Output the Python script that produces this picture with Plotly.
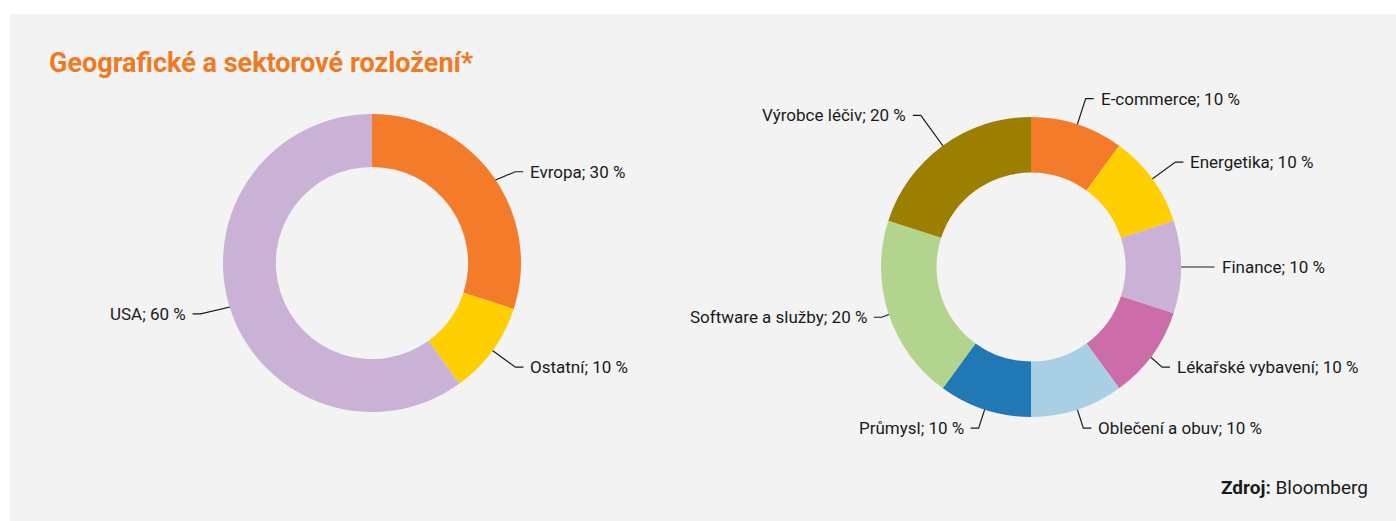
import math
import plotly.graph_objects as go

W, H = 1396, 521

# ---------------- data ----------------
geo_labels = ["Evropa", "Ostatní", "USA"]
geo_values = [30, 10, 60]
geo_colors = ["#F47B2A", "#FFCF01", "#C9B2D6"]

sec_labels = ["E-commerce", "Energetika", "Finance", "Lékařské vybavení",
              "Oblečení a obuv", "Průmysl", "Software a služby", "Výrobce léčiv"]
sec_values = [10, 10, 10, 10, 10, 10, 20, 20]
sec_colors = ["#F47B2A", "#FFCF01", "#C9B2D6", "#CC6CA8",
              "#A8CFE3", "#2078B4", "#B3D48D", "#9C7E00"]

title_text = "Geografické a sektorové rozložení*"
source_text = "<b>Zdroj:</b> Bloomberg"

# ---------------- layout (pixels) ----------------
geo_center, geo_R, geo_hole = (372, 263), 149, 0.645
sec_center, sec_R, sec_hole = (1031, 267), 150, 0.63
# label leader-line elbow: radius factor and angular nudge (degrees)
geo_elbow = [1.14, 1.19, 1.20]
geo_nudge = [3.5, 0.0, 1.5]
sec_elbow = [1.18, 1.19, 1.17, 1.10, 1.13, 1.13, 1.05, 1.25]
sec_nudge = [0.0, 0.0, 0.0, 1.4, 0.0, 0.0, -0.6, 0.0]
LEG = 8
GAP = 5
LINE_COLOR = "#1A1A1A"
TEXT_COLOR = "#1A1A1A"
FONT = "Roboto"
LABEL_SIZE = 17

fig = go.Figure()


def domain(center, R):
    cx, cy = center
    return dict(x=[(cx - R) / W, (cx + R) / W], y=[1 - (cy + R) / H, 1 - (cy - R) / H])


def add_donut(labels, values, colors, center, R, hole, elbow, nudge, annotations):
    fig.add_trace(go.Pie(
        labels=labels, values=values, hole=hole, sort=False, direction="clockwise",
        rotation=0, marker=dict(colors=colors, line=dict(width=0)),
        textinfo="none", hoverinfo="label+value", showlegend=False,
        domain=domain(center, R),
    ))
    total = float(sum(values))
    cum = 0.0
    cx, cy = center
    r_in = (1 + hole) / 2 * R + 2
    for lab, val, ef, nd in zip(labels, values, elbow, nudge):
        mid = (cum + val / 2) / total * 2 * math.pi
        cum += val
        sx, sy = math.sin(mid), -math.cos(mid)
        p0 = (cx + r_in * sx, cy + r_in * sy)
        ang = mid + math.radians(nd)
        p1 = (cx + ef * R * math.sin(ang), cy - ef * R * math.cos(ang))
        side = 1 if sx >= 0 else -1
        p2 = (p1[0] + side * LEG, p1[1])
        fig.add_trace(go.Scatter(
            x=[p0[0], p1[0], p2[0]], y=[p0[1], p1[1], p2[1]], mode="lines",
            line=dict(color=LINE_COLOR, width=1.2), hoverinfo="skip", showlegend=False,
        ))
        annotations.append(dict(
            x=p2[0] + side * GAP, y=p2[1], xref="x", yref="y",
            text=f"{lab}; {val} %", showarrow=False,
            xanchor="left" if side > 0 else "right", yanchor="middle",
            font=dict(family=FONT, size=LABEL_SIZE, color=TEXT_COLOR),
        ))


annotations = []
add_donut(geo_labels, geo_values, geo_colors, geo_center, geo_R, geo_hole,
          geo_elbow, geo_nudge, annotations)
add_donut(sec_labels, sec_values, sec_colors, sec_center, sec_R, sec_hole,
          sec_elbow, sec_nudge, annotations)

annotations.append(dict(
    x=47, y=63, xref="x", yref="y", text=f"<b>{title_text}</b>", showarrow=False,
    xanchor="left", yanchor="middle", font=dict(family=FONT, size=27, color="#F07A22"),
))
annotations.append(dict(
    x=1370, y=487, xref="x", yref="y", text=source_text, showarrow=False,
    xanchor="right", yanchor="middle", font=dict(family=FONT, size=19, color=TEXT_COLOR),
))

fig.update_layout(
    width=W, height=H, margin=dict(l=0, r=0, t=0, b=0),
    paper_bgcolor="#FFFFFF", plot_bgcolor="rgba(0,0,0,0)",
    xaxis=dict(range=[0, W], visible=False, fixedrange=True),
    yaxis=dict(range=[H, 0], visible=False, fixedrange=True),
    shapes=[dict(type="rect", xref="x", yref="y", x0=10, x1=W, y0=14, y1=H,
                 fillcolor="#F3F3F3", line=dict(width=0), layer="below")],
    annotations=annotations,
    font=dict(family=FONT),
)

fig.write_html(
    "out.html",
    config={"displayModeBar": False},
    post_script="document.body.style.margin='0';document.body.style.overflow='hidden';",
)
